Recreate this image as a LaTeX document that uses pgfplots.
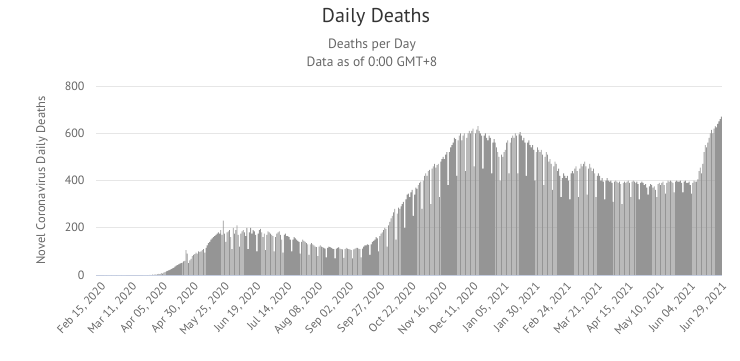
\documentclass[border=0pt]{standalone}
\usepackage{pgfplots}
\pgfplotsset{compat=1.18}
\usepackage{fontspec}
\setmainfont{PT Sans}
\definecolor{titlec}{HTML}{333333}
\definecolor{tickc}{HTML}{666666}
\definecolor{gridc}{HTML}{E6E6E6}
\definecolor{axisc}{HTML}{CCD6EB}
\definecolor{barc}{HTML}{959595}
\begin{document}
\begin{tikzpicture}[x=1pt,y=1pt]
\path[use as bounding box] (-96,-85) rectangle (644,275);
\node[font=\fontsize{20}{22}\selectfont, text=titlec] at (280,258) {Daily Deaths};
\node[font=\fontsize{13.5}{15}\selectfont, text=tickc] at (276,230) {Deaths per Day};
\node[font=\fontsize{13.5}{15}\selectfont, text=tickc] at (276,213) {Data as of 0:00 GMT+8};
\begin{axis}[
  at={(0,0)}, anchor=south west,
  scale only axis, width=626pt, height=189pt,
  xmin=-0.5, xmax=503.5, ymin=0, ymax=800,
  axis x line*=bottom,
  axis y line*=left,
  x axis line style={draw=axisc, line width=1pt, -},
  y axis line style={draw=none},
  ytick={0,200,400,600,800},
  ymajorgrids, grid style={gridc, line width=0.8pt},
  major tick length=0pt,
  xtick={0,25,50,75,100,125,150,175,200,225,250,275,300,325,350,375,400,425,450,475,500},
  xticklabels={{Feb 15, 2020},{Mar 11, 2020},{Apr 05, 2020},{Apr 30, 2020},{May 25, 2020},{Jun 19, 2020},{Jul 14, 2020},{Aug 08, 2020},{Sep 02, 2020},{Sep 27, 2020},{Oct 22, 2020},{Nov 16, 2020},{Dec 11, 2020},{Jan 05, 2021},{Jan 30, 2021},{Feb 24, 2021},{Mar 21, 2021},{Apr 15, 2021},{May 10, 2021},{Jun 04, 2021},{Jun 29, 2021}},
  xticklabel style={rotate=47, anchor=east, font=\fontsize{11.5}{12}\selectfont, text=tickc, yshift=-12pt, xshift=1pt},
  yticklabel style={font=\fontsize{12}{13}\selectfont, text=tickc, xshift=-8pt},
  /pgf/number format/assume math mode=true,
  ylabel={Novel Coronavirus Daily Deaths},
  ylabel style={at={(axis description cs:-0.0863,0.5)}, anchor=center, font=\fontsize{12.5}{14}\selectfont, text=tickc},
]
\addplot[ybar, bar width=0.68, fill=barc, draw=none] coordinates {
(0,0)(1,0)(2,0)(3,0)(4,0)(5,0)(6,0)(7,0)(8,0)(9,0)(10,0)(11,0)(12,0)(13,0)
(14,0)(15,0)(16,0)(17,0)(18,0)(19,0)(20,0)(21,0)(22,0)(23,0)(24,0)(25,0)(26,0)(27,0)
(28,0)(29,0)(30,0)(31,0)(32,0)(33,0)(34,0)(35,0)(36,0)(37,0)(38,0)(39,0)(40,0)(41,0)
(42,0)(43,1)(44,0)(45,2)(46,1)(47,3)(48,2)
(49,3)(50,5)(51,4)(52,8)(53,6)(54,10)(55,12)
(56,15)(57,18)(58,20)(59,22)(60,25)(61,28)(62,30)
(63,35)(64,40)(65,42)(66,45)(67,48)(68,50)(69,52)
(70,58)(71,60)(72,105)(73,90)(74,50)(75,62)(76,68)
(77,80)(78,85)(79,88)(80,95)(81,90)(82,100)(83,98)
(84,100)(85,105)(86,110)(87,95)(88,115)(89,125)(90,135)
(91,140)(92,150)(93,155)(94,160)(95,165)(96,170)(97,175)
(98,180)(99,175)(100,190)(101,170)(102,230)(103,175)(104,140)
(105,180)(106,185)(107,190)(108,160)(109,110)(110,200)(111,175)
(112,190)(113,210)(114,170)(115,120)(116,175)(117,185)(118,190)
(119,180)(120,165)(121,200)(122,110)(123,180)(124,200)(125,175)
(126,190)(127,185)(128,170)(129,100)(130,175)(131,190)(132,195)
(133,180)(134,160)(135,175)(136,105)(137,170)(138,185)(139,180)
(140,175)(141,170)(142,165)(143,100)(144,160)(145,175)(146,180)
(147,185)(148,170)(149,150)(150,95)(151,170)(152,175)(153,165)
(154,165)(155,160)(156,150)(157,100)(158,150)(159,160)(160,155)
(161,150)(162,145)(163,140)(164,90)(165,140)(166,150)(167,145)
(168,140)(169,135)(170,130)(171,85)(172,130)(173,135)(174,130)
(175,125)(176,120)(177,118)(178,80)(179,120)(180,125)(181,120)
(182,118)(183,115)(184,112)(185,75)(186,115)(187,120)(188,118)
(189,115)(190,112)(191,110)(192,70)(193,112)(194,115)(195,118)
(196,112)(197,110)(198,108)(199,72)(200,110)(201,115)(202,112)
(203,110)(204,108)(205,105)(206,70)(207,108)(208,112)(209,115)
(210,115)(211,112)(212,110)(213,75)(214,112)(215,120)(216,125)
(217,125)(218,130)(219,128)(220,85)(221,130)(222,140)(223,145)
(224,150)(225,160)(226,155)(227,100)(228,165)(229,175)(230,180)
(231,190)(232,200)(233,195)(234,120)(235,210)(236,225)(237,240)
(238,250)(239,265)(240,280)(241,150)(242,260)(243,285)(244,280)
(245,290)(246,300)(247,310)(248,200)(249,320)(250,340)(251,345)
(252,330)(253,350)(254,360)(255,250)(256,340)(257,370)(258,365)
(259,380)(260,390)(261,395)(262,280)(263,400)(264,420)(265,430)
(266,420)(267,440)(268,445)(269,300)(270,450)(271,460)(272,470)
(273,455)(274,465)(275,470)(276,330)(277,480)(278,490)(279,500)
(280,490)(281,510)(282,520)(283,380)(284,520)(285,540)(286,550)
(287,560)(288,580)(289,575)(290,420)(291,570)(292,590)(293,600)
(294,570)(295,590)(296,600)(297,440)(298,580)(299,600)(300,610)
(301,600)(302,610)(303,620)(304,460)(305,600)(306,615)(307,630)
(308,610)(309,600)(310,590)(311,450)(312,590)(313,600)(314,580)
(315,570)(316,590)(317,580)(318,430)(319,560)(320,575)(321,560)
(322,540)(323,520)(324,500)(325,400)(326,510)(327,500)(328,520)
(329,530)(330,560)(331,570)(332,430)(333,560)(334,580)(335,590)
(336,580)(337,600)(338,590)(339,430)(340,595)(341,605)(342,590)
(343,570)(344,580)(345,560)(346,420)(347,560)(348,570)(349,550)
(350,540)(351,550)(352,530)(353,400)(354,520)(355,540)(356,530)
(357,520)(358,530)(359,510)(360,380)(361,500)(362,520)(363,510)
(364,480)(365,490)(366,470)(367,360)(368,460)(369,480)(370,470)
(371,440)(372,450)(373,420)(374,330)(375,410)(376,430)(377,420)
(378,410)(379,420)(380,400)(381,320)(382,430)(383,440)(384,430)
(385,450)(386,460)(387,440)(388,330)(389,450)(390,470)(391,460)
(392,470)(393,480)(394,460)(395,340)(396,450)(397,470)(398,455)
(399,440)(400,450)(401,430)(402,330)(403,420)(404,430)(405,420)
(406,400)(407,410)(408,395)(409,320)(410,400)(411,410)(412,400)
(413,395)(414,400)(415,390)(416,310)(417,395)(418,400)(419,395)
(420,390)(421,395)(422,385)(423,300)(424,390)(425,395)(426,390)
(427,395)(428,400)(429,390)(430,330)(431,395)(432,400)(433,395)
(434,390)(435,395)(436,385)(437,320)(438,390)(439,395)(440,390)
(441,380)(442,385)(443,370)(444,340)(445,375)(446,385)(447,380)
(448,370)(449,375)(450,360)(451,330)(452,385)(453,390)(454,380)
(455,390)(456,395)(457,380)(458,345)(459,390)(460,400)(461,395)
(462,400)(463,395)(464,390)(465,350)(466,395)(467,400)(468,395)
(469,395)(470,400)(471,390)(472,350)(473,395)(474,400)(475,390)
(476,390)(477,395)(478,380)(479,345)(480,390)(481,400)(482,395)
(483,395)(484,405)(485,440)(486,455)(487,430)(488,470)(489,520)
(490,550)(491,540)(492,560)(493,580)(494,600)(495,614)(496,600)
(497,620)(498,630)(499,625)(500,640)(501,650)(502,660)(503,670)
};
\end{axis}
\end{tikzpicture}
\end{document}
